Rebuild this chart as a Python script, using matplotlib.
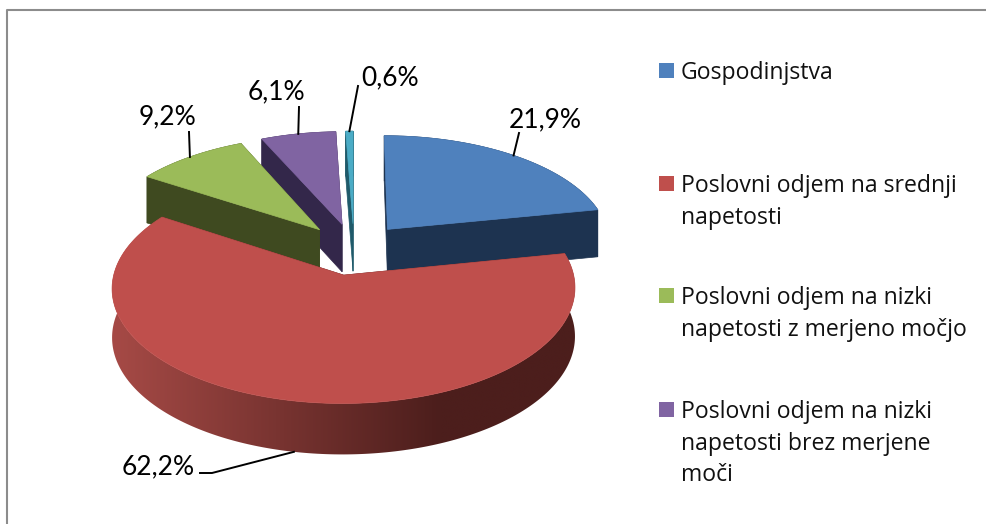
import numpy as np
import matplotlib
matplotlib.use("Agg")
import matplotlib.pyplot as plt
from matplotlib.patches import Polygon, Rectangle

names = ["Gospodinjstva",
         "Poslovni odjem na srednji\nnapetosti",
         "Poslovni odjem na nizki\nnapetosti z merjeno močjo",
         "Poslovni odjem na nizki\nnapetosti brez merjene\nmoči",
         "Drugo"]
shares = [21.9, 62.2, 9.2, 6.1, 0.6]
labels = ["21,9%", "62,2%", "9,2%", "6,1%", "0,6%"]
top_colors = ["#4f81bd", "#bf4f4c", "#9bbb59", "#8064a2", "#4bacc6"]
side_colors = ["#1d3350", "#4f1f1e", "#3f4a20", "#33274a", "#1f5a6a"]

# where the labels and legend rows sit, in pixels
label_pos = [(545, 120), (158, 467), (167, 117), (276, 92), (390, 78)]
leader_end = [(519, 133), (200, 473), (189, 132), (299, 107), (358, 86)]
legend_y = [70, 183, 295, 409]

# pie projection
cx, cy = 354, 249
rad_x, rad_y = 224, 108
persp = 0.11
explode = 0.24
depth = 48


def project(u, v, z=0.0):
    w = 1 + persp * v
    return cx + rad_x * u / w, cy - rad_y * v / w + depth * z * (1 - 0.05 * v)


fig = plt.figure(figsize=(9.86, 5.24), dpi=100)
ax = fig.add_axes([0, 0, 1, 1])
ax.axis("off")

# frame, only top and left are in the crop
ax.plot([7, 7, 986], [524, 10, 10], color="#8c8c8c", lw=1.5)

edges = np.cumsum([0] + shares) / sum(shares) * 2 * np.pi
slices = []
for i in range(len(shares)):
    mid = (edges[i] + edges[i + 1]) / 2
    off = (explode * np.sin(mid), explode * np.cos(mid))
    slices.append((i, edges[i], edges[i + 1], mid, off))

# wall of the big slice goes darker from left to right, flat after x=440
grad_x = np.linspace(112, 578, 256)
shade = np.clip((grad_x - 112) / (440 - 112), 0, 1).reshape(1, -1, 1)
c0 = np.array([166, 74, 70]).reshape(1, 1, 3)
c1 = np.array([76, 30, 28]).reshape(1, 1, 3)
red_grad = (c0 + (c1 - c0) * shade) / 255

# far slices first
for i, a0, a1, mid, off in sorted(slices, key=lambda s: -s[4][1]):
    n = max(int((a1 - a0) * 60), 3)
    t = np.linspace(a0, a1, n)
    ou = off[0] + np.sin(t)
    ov = off[1] + np.cos(t)

    # cut faces
    for a in (a0, a1):
        eu, ev = off[0] + np.sin(a), off[1] + np.cos(a)
        face = [project(off[0], off[1]), project(eu, ev),
                project(eu, ev, 1), project(off[0], off[1], 1)]
        ax.add_patch(Polygon(face, closed=True, fc=side_colors[i], ec=side_colors[i], lw=0.5))

    # outer wall
    wall = [project(a, b) for a, b in zip(ou, ov)] + [project(a, b, 1) for a, b in zip(ou[::-1], ov[::-1])]
    if i == 1:
        patch = Polygon(wall, closed=True, fc="none", ec="none")
        ax.add_patch(patch)
        img = ax.imshow(red_grad, extent=(112, 578, 460, 200), aspect="auto", interpolation="bilinear")
        img.set_clip_path(patch)
    else:
        ax.add_patch(Polygon(wall, closed=True, fc=side_colors[i], ec=side_colors[i], lw=0.5))

    # top
    pts = [project(off[0], off[1])] + [project(a, b) for a, b in zip(ou, ov)]
    ax.add_patch(Polygon(pts, closed=True, fc=top_colors[i], ec=top_colors[i], lw=0.5, zorder=2))

    # leader line and value
    su, sv = off[0] + np.sin(mid), off[1] + np.cos(mid)
    start = project(su, sv, 1 if i == 1 else 0)
    line_x = [start[0], leader_end[i][0]]
    line_y = [start[1], leader_end[i][1]]
    if i == 1:
        line_x.insert(1, 212)
        line_y.insert(1, leader_end[i][1])
    ax.plot(line_x, line_y, color="black", lw=1.4, zorder=5)
    ax.text(label_pos[i][0], label_pos[i][1], labels[i], family="Lato", fontsize=19,
            ha="center", va="center", color="black", zorder=6)

# legend, the last entry is cut off in the original
for name, col, y in zip(names, top_colors, legend_y):
    ax.add_patch(Rectangle((659, y - 7), 15, 15, fc=col, ec="none"))
    ax.text(681, y - 9, name, family="Open Sans", fontsize=16.6, ha="left", va="top",
            linespacing=1.42, color="#111111")

ax.set_xlim(0, 986)
ax.set_ylim(524, 0)
fig.savefig("out.png", dpi=100)
